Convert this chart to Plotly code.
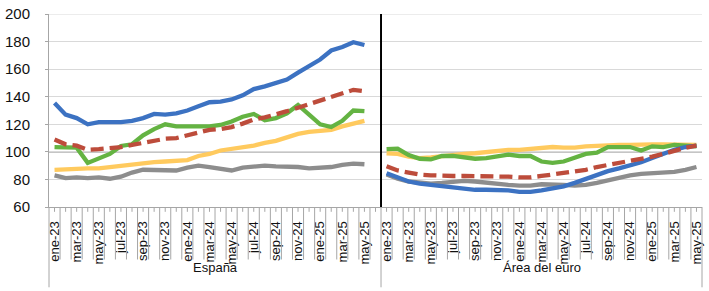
import plotly.graph_objects as go

months = ["ene", "feb", "mar", "abr", "may", "jun", "jul", "ago", "sep", "oct", "nov", "dic"]
groups = ["España", "Área del euro"]

# España: ene-23 .. may-25 (29 months) + empty jun-25 slot
esp_blue = [135.5, 127, 124.5, 120, 121.5, 121.5, 121.5, 122.5, 124.5, 127.5, 127, 128, 130, 133, 136,
            136.5, 138, 141, 145.5, 147.5, 150, 152.5, 157.5, 162, 167, 173.5, 176, 179.5, 177.5]
esp_red = [109, 105.5, 104.5, 101.5, 102, 102.5, 103.5, 105, 106.5, 108.5, 109.5, 110, 112, 114, 116,
           116.5, 118, 120.5, 123.5, 125, 127, 129.5, 132, 134.5, 137, 140, 142.5, 145, 144]
esp_green = [103.5, 103.5, 103, 92, 95, 98.5, 104.3, 105.5, 112, 116.5, 120, 118.5, 118.5, 118.5, 118.5,
             119.5, 122, 125.5, 127.5, 123, 124.5, 128, 134, 127, 120, 118, 122.5, 130, 129.5]
esp_yellow = [87, 87.5, 88, 88, 88, 89, 90, 91, 92, 92.5, 93, 93.5, 94, 97, 98.5,
              101, 102, 103.5, 104.5, 106.5, 108, 110.5, 113, 114.5, 115.5, 116, 118.5, 120.5, 122.5]
esp_gray = [83, 81, 81.5, 81, 81.5, 80.5, 82, 85, 87, 87, 86.5, 86.5, 88.5, 90, 89,
            87.5, 86.5, 88.5, 89.5, 90, 89.5, 89.5, 89, 88, 88.5, 89, 90.5, 91.5, 91]

# Área del euro: ene-23 .. may-25 (29 months)
eur_blue = [84.5, 81.5, 78.5, 77, 76, 75.5, 74, 73, 72.5, 72.5, 72.5, 72, 71, 71, 72,
            73.5, 75, 77.5, 80.5, 83.5, 86, 88, 90, 92.5, 95.5, 98.5, 101.5, 103.5, 104.5]
eur_red = [89.5, 86.5, 85, 83.5, 83, 82.5, 82.5, 82.5, 82.5, 82.5, 82.5, 82, 81.5, 81.5, 82.5,
           83.5, 84.5, 85.5, 87, 89, 90.5, 92, 93, 94.5, 96.5, 98.5, 101, 103, 104.5]
eur_green = [102, 102.3, 97.7, 95, 94.5, 97, 97, 96, 95, 95.5, 96.5, 98, 97, 97, 93,
             92, 93, 95.5, 98.5, 99.5, 103.5, 103.5, 103.5, 101, 104, 103.5, 105, 104.5, 104]
eur_yellow = [99, 98.5, 96.5, 95.5, 96, 97, 98, 98.5, 99, 100, 101, 101.5, 101.5, 102, 103,
              103.5, 103, 103, 104, 104.5, 105, 105, 105, 105.5, 105.5, 105.5, 105.5, 105, 105]
eur_gray = [83.5, 80.5, 78.5, 77.5, 77, 77.5, 78.5, 79, 78.5, 77.5, 76.5, 76, 75.5, 75.5, 76.5,
            76.5, 76, 75.5, 76, 77.5, 79.5, 81.5, 83, 84, 84.5, 85, 85.5, 87, 89]

n_esp_slots = 30  # ene-23..jun-25 (last slot empty)
n_eur = 29

def month_labels(n):
    out = []
    for k in range(n):
        m = k % 12
        y = 23 + k // 12
        out.append(f"{months[m]}-{y}")
    return out

cats = month_labels(n_esp_slots) + month_labels(n_eur)
N = len(cats)
xs = list(range(N))

def full(esp, eur):
    return esp + [None] * (n_esp_slots - len(esp)) + eur

series = [
    (esp_gray, eur_gray, "#8D8D8D", None),
    (esp_yellow, eur_yellow, "#FFCA5E", None),
    (esp_green, eur_green, "#64B342", None),
    (esp_blue, eur_blue, "#3C72C2", None),
    (esp_red, eur_red, "#BD4C3B", "13px,6px"),
]

fig = go.Figure()
for esp, eur, col, dash in series:
    fig.add_trace(go.Scatter(
        x=xs, y=full(esp, eur), mode="lines", connectgaps=False,
        line=dict(color=col, width=4.3, dash=dash) if dash else dict(color=col, width=4.3),
        showlegend=False, hoverinfo="skip"))

tickvals = [i for i in range(n_esp_slots) if i % 2 == 0 and i < 29] + \
           [n_esp_slots + j for j in range(n_eur) if j % 2 == 0]
ticktext = [cats[i] for i in tickvals]

shapes = []
# category boundary lines below axis
for b in range(N + 1):
    xb = b - 0.5
    long_line = b in (0, n_esp_slots, N)
    y1 = -0.416 if long_line else -0.272
    if b == 0:
        shapes.append(dict(type="line", xref="paper", yref="paper", x0=0, x1=0, y0=0, y1=y1,
                           line=dict(color="#A6A6A6", width=1)))
    elif b == N:
        shapes.append(dict(type="line", xref="paper", yref="paper", x0=1, x1=1, y0=0, y1=y1,
                           line=dict(color="#A6A6A6", width=1)))
    else:
        shapes.append(dict(type="line", xref="x", yref="paper", x0=xb, x1=xb, y0=0, y1=y1,
                           line=dict(color="#A6A6A6", width=1)))
# short ticks at category centres
for i in range(N):
    shapes.append(dict(type="line", xref="x", yref="paper", x0=i, x1=i, y0=0, y1=-0.025,
                       line=dict(color="#A6A6A6", width=1)))
# top gridline at 200
shapes.append(dict(type="line", xref="paper", yref="y", x0=0, x1=1, y0=200, y1=200,
                   line=dict(color="#D9D9D9", width=1), layer="below"))
# darker 100 line
shapes.append(dict(type="line", xref="paper", yref="y", x0=0, x1=1, y0=100, y1=100,
                   line=dict(color="#8C8C8C", width=1.3), layer="below"))
# black separator between panels
shapes.append(dict(type="line", xref="x", yref="paper", x0=n_esp_slots - 0.5, x1=n_esp_slots - 0.5,
                   y0=0, y1=1, line=dict(color="#000000", width=2)))

annotations = [
    dict(text=groups[0], x=(n_esp_slots - 1) / 2, xref="x", y=-0.312, yref="paper",
         xanchor="center", yanchor="middle",
         showarrow=False, font=dict(size=13, color="#111111", family="Liberation Sans")),
    dict(text=groups[1], x=n_esp_slots + (n_eur - 1) / 2, xref="x", y=-0.312, yref="paper",
         xanchor="center", yanchor="middle",
         showarrow=False, font=dict(size=13, color="#111111", family="Liberation Sans")),
]

fig.update_layout(
    width=709, height=291,
    margin=dict(l=46, r=6, t=5, b=84),
    plot_bgcolor="white", paper_bgcolor="white",
    font=dict(family="Liberation Sans", color="#111111"),
    shapes=shapes, annotations=annotations,
    xaxis=dict(range=[-0.5, N - 0.5], tickmode="array", tickvals=tickvals, ticktext=ticktext,
               tickangle=-90, tickfont=dict(size=13, color="#111111"), ticks="",
               ticklabelstandoff=8, showgrid=False, zeroline=False,
               showline=True, linecolor="#A6A6A6", linewidth=1),
    yaxis=dict(range=[60, 200], tickmode="array", tickvals=[60, 80, 100, 120, 140, 160, 180, 200],
               showgrid=True, gridcolor="#D9D9D9", gridwidth=1,
               tickfont=dict(size=15, color="#111111"), ticks="outside", ticklen=3,
               tickcolor="#A6A6A6", ticklabelstandoff=12, ticklabeloverflow="allow", zeroline=False,
               showline=True, linecolor="#A6A6A6", linewidth=1),
)

fig.write_html("out.html")
